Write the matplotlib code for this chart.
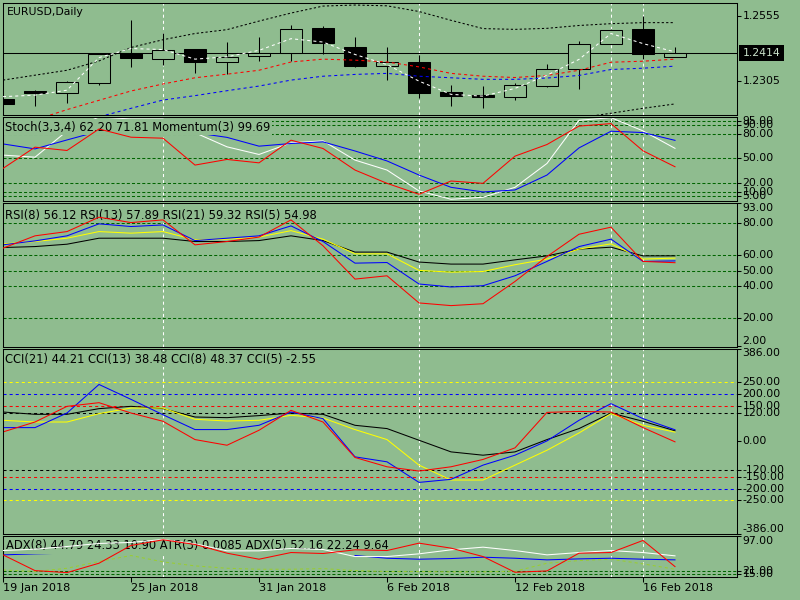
import numpy as np
import matplotlib
matplotlib.use('Agg')
import matplotlib.pyplot as plt
import matplotlib.transforms as mtransforms

plt.rcParams['font.family'] = ['DejaVu Sans']
plt.rcParams['lines.scale_dashes'] = False

# ---------------- data ----------------
dates = ['19 Jan 2018', '22 Jan 2018', '23 Jan 2018', '24 Jan 2018', '25 Jan 2018',
         '26 Jan 2018', '29 Jan 2018', '30 Jan 2018', '31 Jan 2018', '1 Feb 2018',
         '2 Feb 2018', '5 Feb 2018', '6 Feb 2018', '7 Feb 2018', '8 Feb 2018',
         '9 Feb 2018', '12 Feb 2018', '13 Feb 2018', '14 Feb 2018', '15 Feb 2018',
         '16 Feb 2018', '19 Feb 2018']
opens = [1.2237, 1.2268, 1.2260, 1.2299, 1.2412, 1.2391, 1.2428, 1.2379, 1.2404, 1.2414, 1.2509,
         1.2435, 1.2365, 1.2378, 1.2263, 1.2251, 1.2245, 1.2287, 1.2350, 1.2450, 1.2505, 1.2399]
highs = [1.2238, 1.2271, 1.2306, 1.2412, 1.2540, 1.2492, 1.2430, 1.2455, 1.2474, 1.2520, 1.2517,
         1.2474, 1.2436, 1.2405, 1.2292, 1.2286, 1.2297, 1.2370, 1.2462, 1.2505, 1.2555, 1.2436]
lows = [1.2217, 1.2209, 1.2219, 1.2290, 1.2360, 1.2369, 1.2335, 1.2333, 1.2382, 1.2382, 1.2408,
        1.2360, 1.2310, 1.2241, 1.2209, 1.2202, 1.2232, 1.2283, 1.2273, 1.2449, 1.2389, 1.2398]
closes = [1.2218, 1.2260, 1.2301, 1.2409, 1.2396, 1.2427, 1.2379, 1.2400, 1.2412, 1.2508, 1.2452,
          1.2364, 1.2378, 1.2260, 1.2246, 1.2244, 1.2292, 1.2350, 1.2450, 1.2504, 1.2408, 1.2414]
last_price = 1.2414

ma_white = [1.2245, 1.2251, 1.2270, 1.2396, 1.2431, 1.2427, 1.2390, 1.2399, 1.2424, 1.2469, 1.2456,
            1.2408, 1.2369, 1.2305, 1.2254, 1.2247, 1.2277, 1.2328, 1.2389, 1.2489, 1.2450, 1.2418]
band_upper = [1.2309, 1.2328, 1.2347, 1.2383, 1.2435, 1.2465, 1.2489, 1.2504, 1.2537, 1.2568, 1.2595,
              1.2599, 1.2596, 1.2574, 1.2540, 1.2508, 1.2505, 1.2509, 1.2520, 1.2527, 1.2531, 1.2531]
band_lower = [np.nan] * 18 + [1.2163, 1.2181, 1.2200, 1.2217]
ma_red = [1.2124, 1.2155, 1.2195, 1.2231, 1.2267, 1.2294, 1.2318, 1.2332, 1.2347, 1.2379, 1.2390,
          1.2386, 1.2379, 1.2360, 1.2335, 1.2324, 1.2319, 1.2327, 1.2347, 1.2378, 1.2382, 1.2390]
ma_blue = [1.2117, 1.2132, 1.2147, 1.2167, 1.2200, 1.2232, 1.2249, 1.2268, 1.2286, 1.2309, 1.2324,
           1.2331, 1.2335, 1.2324, 1.2318, 1.2312, 1.2312, 1.2317, 1.2327, 1.2350, 1.2355, 1.2363]

stoch_main = [54, 51.5, 83, 100, 97.5, 97.5, 81, 64, 54.8, 68.8, 71.2, 48, 36, 10.8, 0.8, 3.2,
              15.2, 44, 96, 99.2, 83.2, 62.2]
stoch_signal = [67.5, 61.5, 72.3, 82.8, 86, 84, 81, 75.4, 64.8, 68, 70, 59, 47, 30, 15.2, 9.6,
                12, 30, 62.7, 82.8, 81.2, 71.8]
momentum = [38, 63.6, 59.6, 85.5, 75.6, 74.4, 42, 48.8, 44.7, 72, 62, 36, 20, 6.8, 22.8, 20,
            52.8, 66.8, 89, 92, 59.2, 40]
stoch_levels = [95, 90, 80, 50, 20, 10, 5]

rsi5 = [64.2, 72, 74.7, 83.8, 80.4, 82.1, 66.3, 68.4, 71.2, 82.1, 65.7, 44.6, 46.7, 29.5, 27.8,
        29, 43.1, 58.9, 73, 77.5, 55.8, 54.98]
rsi8 = [66.3, 68.8, 72, 79.6, 77.9, 78.9, 69, 70.5, 72, 78.3, 68.4, 54.7, 55.1, 41.5, 39.6, 40.4,
        46.7, 55.8, 65.2, 69.9, 55.8, 56.12]
rsi13 = [66.9, 68.4, 70.5, 74.7, 73.7, 74.7, 69.5, 69.9, 71.2, 75.3, 69.9, 60.6, 60.6, 50.1, 49,
         49.4, 53.7, 57.3, 63.6, 66.9, 57.3, 57.89]
rsi21 = [64.6, 65.2, 66.7, 70.5, 70.5, 70.5, 68.4, 68.4, 69, 72, 69, 61.7, 61.7, 55.4, 54.1, 54.1,
         56.8, 59.3, 63.6, 64.8, 59.3, 59.32]
rsi_levels = [80, 60, 50, 40, 20]

cci21 = [123.5, 113.8, 113.8, 137.8, 147.5, 137.8, 102.4, 99.7, 108.3, 119.3, 113.8, 67.4, 53.5,
         4.2, -45, -59, -45, 7, 53.5, 119.3, 84.3, 44.21]
cci13 = [88.5, 81.3, 81.3, 116.7, 140.3, 140.3, 92.7, 85.5, 88.5, 109.6, 98.2, 49.3, 7, -101,
         -164, -164, -101, -38, 35, 116.7, 67.4, 38.48]
cci8 = [57.6, 57.6, 119.3, 240, 177, 112, 49.3, 49.3, 67.4, 123.5, 95.6, -66, -87, -174, -161,
        -101, -59, 1.4, 88.5, 158.9, 95.6, 48.37]
cci5 = [39.3, 81.3, 147.5, 163, 119.3, 84.3, 7, -16.9, 46.4, 130.6, 81.3, -68.7, -108, -126,
        -108, -77, -28, 122, 126, 123.5, 57.6, -2.55]
cci_levels = [(250, '#ffff00'), (200, '#0000ff'), (150, '#ff0000'), (120, '#000000')]

adx_white = [58.2, 60.7, 65.6, 71.2, 73.1, 78.6, 70.6, 57.6, 57.6, 62.0, 60.1, 47.1, 47.1, 52.1,
             59.5, 64.4, 58.2, 50.2, 54.5, 58.2, 54.5, 48.4]
adx_red = [50.2, 21.2, 17.5, 34.8, 67.5, 78.0, 69.4, 53.3, 42.2, 54.5, 52.7, 59.5, 58.2, 71.8,
           62.6, 47.1, 18.1, 20.6, 53.3, 54.5, 76.8, 28.6]
adx_blue = [50.2, 52.1, 53.3] + [np.nan] * 8 + [49.0, 44.0, 42.2, 43.4, 45.9, 44.0, 41.0, 42.8,
                                               44.0, 42.2, 41.0]
atr_green = [22.5, 19.4, 25.5, 37.9, 49.0, 37.3, 29.9, 25.5, 23.7, 23.7, 24.9, 21.2, 19.4, 19.4,
             18.8, 18.8, 20.0, 34.8, 39.7, 42.2, 33.6, 23.7]
adx_levels = [20, 15]

tick_idx = [0, 4, 8, 12, 16, 20]
vline_idx = [5, 13, 19, 20]

# ---------------- styling ----------------
BG = '#8fbc8f'
GRID = '#006400'
W, H = 800, 600
FS = 7.8       # axis labels
FS_LAB = 8.3   # indicator captions
LW = 0.75
DASH = (0, (2.2, 2.2))
DOT = (0, (1.6, 1.6))
GDASH = (0, (2.2, 1.5))

fig = plt.figure(figsize=(8, 6), dpi=100, facecolor=BG)
x = np.arange(len(dates))


def panel(top, bottom, ylim):
    ax = fig.add_axes([3 / W, 1 - bottom / H, 734 / W, (bottom - top) / H])
    ax.set_facecolor(BG)
    ax.set_xlim(0, 734 / 32)
    ax.set_ylim(*ylim)
    for s in ax.spines.values():
        s.set_linewidth(LW)
        s.set_color('black')
    ax.tick_params(axis='x', bottom=False, labelbottom=False)
    ax.tick_params(axis='y', left=False, labelleft=False, right=True, labelright=False,
                   direction='out', length=3, width=LW, color='black')
    for i in vline_idx:
        ax.axvline(i, color='white', lw=LW, ls=DASH, zorder=1.5)
    return ax


def right_labels(ax, items):
    trans = mtransforms.blended_transform_factory(fig.transFigure, ax.transData)
    ax.set_yticks([v for v, _, _ in items])
    for v, s, va in items:
        ax.text(742.5 / W, v, s, transform=trans, va=va, ha='left', fontsize=FS,
                color='black', clip_on=False)
    return trans


def label(ax, px, py, s, z=3, box=True, fs=FS_LAB):
    kw = dict(boxstyle='square,pad=0.12', fc=BG, ec='none') if box else None
    ax.text(px / W, 1 - py / H, s, transform=fig.transFigure, va='center', ha='left',
            fontsize=fs, color='black', zorder=z, bbox=kw)


# ---------------- main price panel ----------------
ax0 = panel(2.5, 115, (1.21742, 1.26088))
o = np.array(opens); c = np.array(closes)
ax0.vlines(x, lows, highs, color='black', lw=LW, zorder=2)
ax0.axhline(last_price, color='black', lw=LW, zorder=2.5)
bull = c >= o
ax0.bar(x, np.abs(c - o), bottom=np.minimum(o, c), width=0.6875,
        color=np.where(bull, BG, 'black'), edgecolor='black', linewidth=LW, zorder=3)
ax0.plot(x, band_upper, color='black', lw=LW, ls=DOT, zorder=4)
ax0.plot(x, band_lower, color='black', lw=LW, ls=DOT, zorder=4)
ax0.plot(x, ma_red, color='#ff0000', lw=LW, ls=DASH, zorder=4)
ax0.plot(x, ma_blue, color='#0000ff', lw=LW, ls=DASH, zorder=4)
ax0.plot(x, ma_white, color='white', lw=LW, ls=DASH, zorder=4)
tr0 = right_labels(ax0, [(1.2555, '1.2555', 'center'), (1.2305, '1.2305', 'center')])
ax0.text(742.5 / W, last_price, '%.4f' % last_price, transform=tr0, va='center', ha='left',
         fontsize=FS, color='#c9e0c9', clip_on=False,
         bbox=dict(boxstyle='square,pad=0.3', fc='black', ec='none'))
label(ax0, 7, 12, 'EURUSD,Daily', box=False, fs=7.8)

# ---------------- stochastic / momentum ----------------
ax1 = panel(116.8, 201, (-1.3, 100.2))
for v in stoch_levels:
    ax1.axhline(v, color=GRID, lw=LW, ls=GDASH, zorder=1)
ax1.plot(x, stoch_main, color='white', lw=LW, zorder=2)
ax1.plot(x, stoch_signal, color='#0000ff', lw=LW, zorder=2)
ax1.plot(x, momentum, color='#ff0000', lw=LW, zorder=4)
label(ax1, 5, 127.3, 'Stoch(3,3,4) %.2f %.2f Momentum(3) 99.69' % (62.20, 71.81), z=3)
right_labels(ax1, [(v, '%.2f' % v, 'center') for v in stoch_levels])

# ---------------- RSI ----------------
ax2 = panel(203, 346.5, (1.9, 92.8))
for v in rsi_levels:
    ax2.axhline(v, color=GRID, lw=LW, ls=GDASH, zorder=1)
ax2.plot(x, rsi21, color='black', lw=LW, zorder=2)
ax2.plot(x, rsi13, color='#ffff00', lw=LW, zorder=2)
ax2.plot(x, rsi8, color='#0000ff', lw=LW, zorder=2)
ax2.plot(x, rsi5, color='#ff0000', lw=LW, zorder=4)
label(ax2, 5, 215, 'RSI(8) %.2f RSI(13) %.2f RSI(21) %.2f RSI(5) %.2f'
      % (rsi8[-1], rsi13[-1], rsi21[-1], rsi5[-1]), z=3)
right_labels(ax2, [(92.8, '93.00', 'top')] + [(v, '%.2f' % v, 'center') for v in rsi_levels]
             + [(1.9, '2.00', 'bottom')])

# ---------------- CCI ----------------
ax3 = panel(348.5, 533.5, (-390, 392))
for v, col in cci_levels:
    ax3.axhline(v, color=col, lw=LW, ls=DASH, zorder=1)
    ax3.axhline(-v, color=col, lw=LW, ls=DASH, zorder=1)
ax3.plot(x, cci21, color='black', lw=LW, zorder=2)
ax3.plot(x, cci13, color='#ffff00', lw=LW, zorder=2)
ax3.plot(x, cci8, color='#0000ff', lw=LW, zorder=2)
ax3.plot(x, cci5, color='#ff0000', lw=LW, zorder=2)
label(ax3, 5, 359.3, 'CCI(21) %.2f CCI(13) %.2f CCI(8) %.2f CCI(5) %.2f'
      % (cci21[-1], cci13[-1], cci8[-1], cci5[-1]), z=3)
cci_items = [(392, '386.00', 'top')]
cci_items += [(v, '%.2f' % v, 'center') for v, _ in cci_levels]
cci_items += [(0, '0.00', 'center')]
cci_items += [(-v, '%.2f' % -v, 'center') for v, _ in cci_levels]
cci_items += [(-390, '-386.00', 'bottom')]
right_labels(ax3, cci_items)

# ---------------- ADX / ATR ----------------
ax4 = panel(535.5, 577, (9.4, 85.9))
for v in adx_levels:
    ax4.axhline(v, color=GRID, lw=LW, ls=GDASH, zorder=1)
ax4.plot(x, atr_green, color='#9acd32', lw=LW, ls=DASH, zorder=2)
ax4.plot(x, adx_blue, color='#0000ff', lw=LW, zorder=2)
label(ax4, 6, 546, 'ADX(8) 44.79 24.33 10.90 ATR(3) 0.0085 ADX(5) 52.16 22.24 9.64', z=3)
ax4.plot(x, adx_white, color='white', lw=LW, zorder=4)
ax4.plot(x, adx_red, color='#ff0000', lw=LW, zorder=4)
right_labels(ax4, [(85.9, '97.00', 'top'), (20, '21.00', 'center'), (15, '15.00', 'center')])
ax4.set_xticks(tick_idx)
ax4.set_xticklabels([dates[i] for i in tick_idx], ha='left', fontsize=8.1)
ax4.tick_params(axis='x', bottom=True, labelbottom=True, direction='out', length=3.6,
                width=LW, pad=1, color='black')

fig.savefig('out.png', dpi=100, facecolor=BG)
